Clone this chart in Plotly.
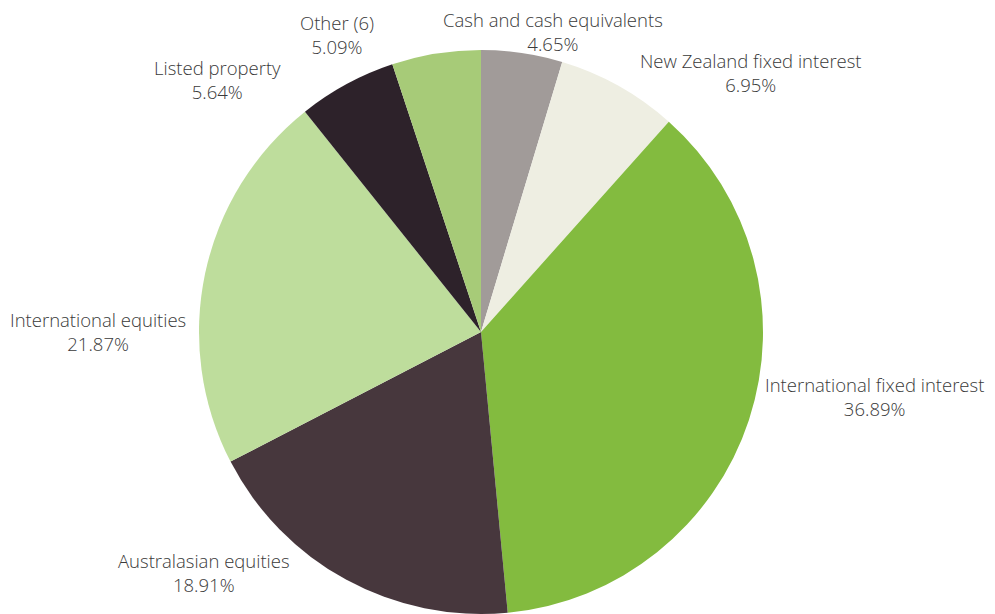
import plotly.graph_objects as go

categories = ["Cash and cash equivalents", "New Zealand fixed interest", "International fixed interest",
              "Australasian equities", "International equities", "Listed property", "Other (6)"]
values = [4.65, 6.95, 36.89, 18.91, 21.87, 5.64, 5.09]
colors = ["#a19b99", "#eeeee2", "#83bb3f", "#47373d", "#bedd9c", "#2d222a", "#a7cb78"]

# label centre positions in screen pixels (layout only)
label_px = [(553, 31), (751, 72), (874, 397), (204, 572), (98, 331), (217, 79), (337, 34)]

W, H = 995, 614
OFF = 8  # page body margin offset
cx, cy, r = 481 - OFF, 332 - OFF, 282
fig = go.Figure(go.Pie(
    labels=categories, values=values, sort=False, direction="clockwise", rotation=0,
    marker=dict(colors=colors, line=dict(width=0)),
    textinfo="none", hoverinfo="label+value", showlegend=False,
    domain=dict(x=[(cx - r) / W, (cx + r) / W], y=[(H - cy - r) / H, (H - cy + r) / H]),
))
for cat, val, (px, py) in zip(categories, values, label_px):
    fig.add_annotation(x=(px - OFF) / W, y=1 - (py - OFF) / H, xref="paper", yref="paper",
                       text=f"{cat}<br>{val:.2f}%", showarrow=False,
                       xanchor="center", yanchor="middle", align="center",
                       font=dict(family="Open Sans, sans-serif", size=18.5, color="#3a3a3a", weight=300))
fig.update_layout(width=W, height=H, margin=dict(l=0, r=0, t=0, b=0),
                  paper_bgcolor="white", plot_bgcolor="white")
fig.write_html("out.html")
